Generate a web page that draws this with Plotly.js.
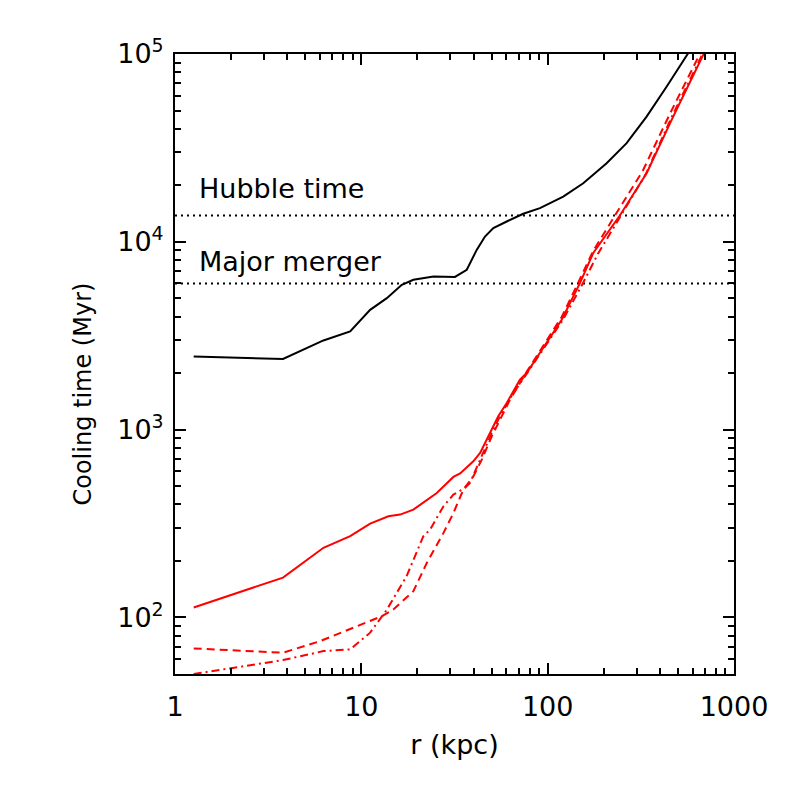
<!DOCTYPE html>
<html>
<head>
<meta charset="utf-8">
<script src="https://cdn.plot.ly/plotly-3.0.1.min.js"></script>
<style>html,body{margin:0;padding:0;background:#fff;}#plot{width:786px;height:786px;}</style>
</head>
<body>
<div id="plot"></div>
<script>
// Radius (kpc) and cooling time (Myr)
const blackR = [1.26, 3.80, 6.26, 8.71, 11.15, 13.7, 16.49, 19.02, 24.4, 31.8, 36.8, 41.6, 46.1, 51.1, 60.3, 74.0, 90.9, 121.2, 155.2, 207.2, 265.3, 339.6, 434.6, 567.4, 600];
const blackT = [2455, 2377, 2985, 3336, 4344, 5012, 5904, 6279, 6531, 6500, 7097, 9057, 10670, 11830, 12830, 14100, 15110, 17420, 20510, 26220, 33500, 46400, 66970, 100000, 110000];

const solidR = [1.26, 3.80, 6.26, 8.71, 11.15, 13.97, 16.15, 19.02, 25.4, 31.2, 33.9, 39.9, 43.4, 49.1, 54.3, 60.3, 71.0, 77.1, 102.9, 118.9, 149, 175.6, 244, 339.6, 471.6, 682.7, 720];
const solidT = [113, 163, 235, 271, 316, 346, 353, 375, 460, 560, 584, 678, 752, 960, 1178, 1387, 1845, 2002, 3077, 3846, 6024, 8716, 13800, 23200, 46400, 100000, 110000];

const dashR = [1.26, 3.80, 6.01, 8.71, 12.88, 14.86, 19.02, 22.45, 27.6, 31.2, 35.3, 39.9, 44.3, 50.1, 55.5, 62.8, 77.1, 102.9, 118.9, 145.4, 175, 229.6, 324, 452.6, 655.6, 700];
const dashT = [68.4, 64.9, 74.8, 87, 101.6, 110.3, 138, 195, 282, 360, 480, 564, 692, 921, 1130, 1444, 2030, 3150, 3980, 6024, 8900, 13800, 23900, 47980, 100000, 110000];

const dashdotR = [1.26, 3.80, 6.26, 8.71, 11.15, 13.7, 17.5, 21.5, 23.4, 27.6, 31.2, 36.0, 38.3, 40.7, 44.3, 50.1, 56.7, 65.4, 77.1, 102.9, 120.8, 154.6, 186.2, 247.3, 336.7, 464.2, 671.7, 710];
const dashdotT = [50, 59.3, 66.2, 67.6, 83, 110, 166, 270, 294, 391, 451, 490, 521, 600, 721, 960, 1228, 1567, 1980, 3040, 3846, 6024, 8640, 13800, 23000, 46400, 100000, 110000];

const refR = [1, 1000];
const hubbleT = [13800, 13800];
const mergerT = [6000, 6000];

const xTickVals = [1, 10, 100, 1000];
const xTickText = ['1', '10', '100', '1000'];
const yTickVals = [100, 1000, 10000, 100000];
const yTickText = ['10<sup>2</sup>', '10<sup>3</sup>', '10<sup>4</sup>', '10<sup>5</sup>'];

const FONT = 'DejaVu Sans, sans-serif';

const traces = [
  {x: refR, y: hubbleT, mode: 'lines', line: {color: 'black', width: 2, dash: '2px,4px'}, hoverinfo: 'skip'},
  {x: refR, y: mergerT, mode: 'lines', line: {color: 'black', width: 2, dash: '2px,4px'}, hoverinfo: 'skip'},
  {x: blackR, y: blackT, mode: 'lines', line: {color: 'black', width: 2}},
  {x: dashR, y: dashT, mode: 'lines', line: {color: '#ff0000', width: 2, dash: '8px,5px'}},
  {x: dashdotR, y: dashdotT, mode: 'lines', line: {color: '#ff0000', width: 2, dash: '8px,4px,2px,4px'}},
  {x: solidR, y: solidT, mode: 'lines', line: {color: '#ff0000', width: 2}}
];

const layout = {
  width: 786, height: 786,
  margin: {l: 175, r: 52, t: 54, b: 112},
  paper_bgcolor: 'white', plot_bgcolor: 'white',
  showlegend: false,
  font: {family: FONT, size: 26, color: 'black'},
  xaxis: {
    type: 'log', range: [0, 3],
    tickvals: xTickVals, ticktext: xTickText,
    ticks: 'inside', ticklen: 11, tickwidth: 2, tickcolor: 'black',
    minor: {ticks: 'inside', ticklen: 6, tickwidth: 2, tickcolor: 'black', dtick: 'D1', showgrid: false},
    showline: true, linewidth: 2, linecolor: 'black', mirror: 'ticks',
    showgrid: false, zeroline: false,
    tickfont: {family: FONT, size: 27},
    ticklabelstandoff: 8,
    title: {text: 'r (kpc)', font: {family: FONT, size: 27}, standoff: 14}
  },
  yaxis: {
    type: 'log', range: [Math.log10(50), 5],
    tickvals: yTickVals, ticktext: yTickText,
    ticks: 'inside', ticklen: 11, tickwidth: 2, tickcolor: 'black',
    minor: {ticks: 'inside', ticklen: 6, tickwidth: 2, tickcolor: 'black', dtick: 'D1', showgrid: false},
    showline: true, linewidth: 2, linecolor: 'black', mirror: 'ticks',
    showgrid: false, zeroline: false,
    tickfont: {family: FONT, size: 27},
    ticklabelstandoff: 4
  },
  annotations: [
    {xref: 'paper', yref: 'paper', x: -0.165, y: 0.452, text: 'Cooling time (Myr)', textangle: -90, showarrow: false, xanchor: 'center', yanchor: 'middle', font: {family: FONT, size: 24}},
    {xref: 'paper', yref: 'y', x: 0.04, y: 4.282, text: 'Hubble time', showarrow: false, xanchor: 'left', yanchor: 'middle', font: {family: FONT, size: 27}},
    {xref: 'paper', yref: 'y', x: 0.04, y: 3.895, text: 'Major merger', showarrow: false, xanchor: 'left', yanchor: 'middle', font: {family: FONT, size: 27}}
  ]
};

Plotly.newPlot('plot', traces, layout, {staticPlot: true, displayModeBar: false});
</script>
</body>
</html>
